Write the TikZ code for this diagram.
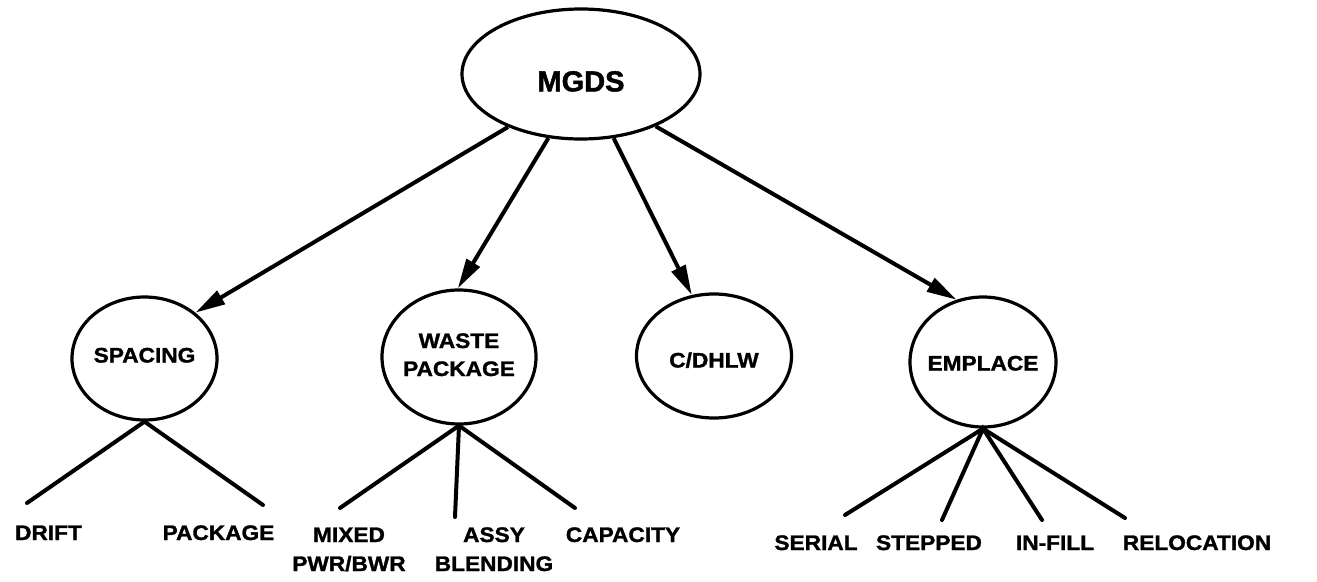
\documentclass[tikz,border=0pt]{standalone}
\usepackage{fontspec}
\usetikzlibrary{shapes.geometric,arrows.meta}
\newfontfamily\lblfont{Liberation Sans}[FakeStretch=1.08,FakeBold=1.4]
\newfontfamily\topfont{Liberation Sans}[FakeBold=1.6]
% centred text of zero width and height, raised by #1
\newcommand\bubbletext[2]{\makebox[0pt]{\raisebox{#1}[0pt][0pt]{#2}}}
\tikzset{
  bubble/.style={draw, ellipse, line width=3.2pt, inner sep=0pt,
    font=\lblfont\bfseries\fontsize{21}{28}\selectfont},
  link/.style={line width=4pt, -{Triangle[length=30pt,width=15pt]}},
  branch/.style={line width=4pt, line cap=round},
  leaf/.style={anchor=base, inner sep=0pt,
    font=\lblfont\bfseries\fontsize{21}{29}\selectfont},
}
\begin{document}
\begin{tikzpicture}[x=1pt,y=-1pt]
\useasboundingbox (0,0) rectangle (1317,581);

% top level and the four aspects
\node[bubble, minimum width=238pt, minimum height=130pt,
      font=\topfont\bfseries\fontsize{29}{34}\selectfont]
  (mgds) at (581,74) {\bubbletext{-17.4pt}{MGDS}};
\node[bubble, minimum width=145pt, minimum height=123pt]
  (spacing) at (144.5,358.5) {\bubbletext{-4pt}{SPACING}};
\node[bubble, minimum width=154pt, minimum height=134pt]
  (waste) at (459,357) {\bubbletext{-19pt}{\begin{tabular}[b]{@{}c@{}}WASTE\\PACKAGE\end{tabular}}};
\node[bubble, minimum width=155pt, minimum height=124pt]
  (cdhlw) at (714,356) {\bubbletext{-11.5pt}{C/DHLW}};
\node[bubble, minimum width=146pt, minimum height=130pt]
  (emplace) at (983,362) {\bubbletext{-8.5pt}{EMPLACE}};

\draw[link] (mgds.216) -- (spacing.42);
\draw[link] (mgds.243) -- (waste.91);
\draw[link] (mgds.297) -- (cdhlw.110);
\draw[link] (mgds.325) -- (emplace.113);

% options under each aspect
\node[leaf] (drift)    at (48.5,540)  {DRIFT};
\node[leaf] (package)  at (218.5,540) {PACKAGE};
\node[leaf] (mixed)    at (349,542)   {\begin{tabular}[t]{@{}c@{}}MIXED\\PWR/BWR\end{tabular}};
\node[leaf] (assy)     at (494,542)   {\begin{tabular}[t]{@{}c@{}}ASSY\\BLENDING\end{tabular}};
\node[leaf] (capacity) at (623,542)   {CAPACITY};
\node[leaf] (serial)   at (816,550)   {SERIAL};
\node[leaf] (stepped)  at (929,550)   {STEPPED};
\node[leaf] (infill)   at (1055,550)  {IN-FILL};
\node[leaf] (reloc)    at (1197,550)  {RELOCATION};

% free ends of the branches, just above the option names
\coordinate (sp1) at (27,503);
\coordinate (sp2) at (263,505);
\coordinate (wp1) at (340,508);
\coordinate (wp2) at (455,517);
\coordinate (wp3) at (575,508);
\coordinate (em1) at (845,515);
\coordinate (em2) at (942,520);
\coordinate (em3) at (1042,520);
\coordinate (em4) at (1125,518);

\draw[branch] (sp1) -- (spacing.south) -- (sp2);
\draw[branch] (wp1) -- (waste.south) -- (wp3);
\draw[branch] (waste.south) -- (wp2);
\draw[branch] (em1) -- (emplace.south) -- (em4);
\draw[branch] (em2) -- (emplace.south) -- (em3);
\end{tikzpicture}
\end{document}
